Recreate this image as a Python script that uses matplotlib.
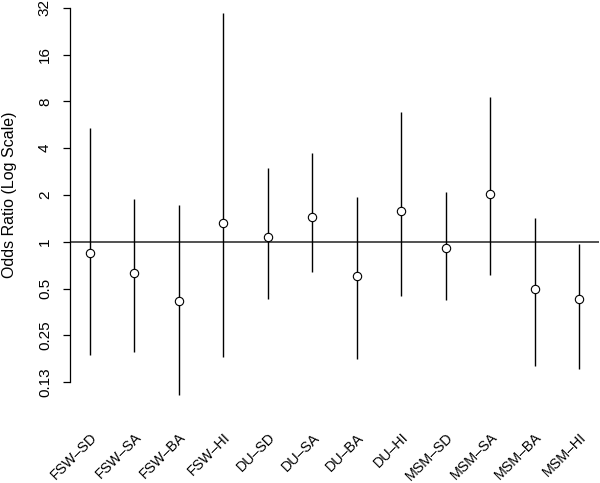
import numpy as np
import matplotlib
matplotlib.use('Agg')
import matplotlib.pyplot as plt

plt.rcParams['font.family'] = ['Liberation Sans', 'DejaVu Sans']

groups = ['FSW–SD', 'FSW–SA', 'FSW–BA', 'FSW–HI', 'DU–SD', 'DU–SA',
          'DU–BA', 'DU–HI', 'MSM–SD', 'MSM–SA', 'MSM–BA', 'MSM–HI']
odds = [0.843, 0.629, 0.417, 1.33, 1.08, 1.45, 0.602, 1.58, 0.916, 2.02, 0.494, 0.428]
lower = [0.188, 0.196, 0.103, 0.182, 0.426, 0.642, 0.175, 0.447, 0.421, 0.611, 0.159, 0.151]
upper = [5.37, 1.88, 1.72, 29.6, 2.97, 3.71, 1.95, 6.81, 2.10, 8.59, 1.42, 0.963]
yticks = [0.125, 0.25, 0.5, 1, 2, 4, 8, 16, 32]
ylabels = ['0.13', '0.25', '0.5', '1', '2', '4', '8', '16', '32']

fig = plt.figure(figsize=(6, 4.83), dpi=100)
ax = fig.add_axes([70/600, 86/483, 529/600, 404/483])

x = np.arange(1, len(groups) + 1)
ax.axhline(1, color='#222222', lw=1.1)
ax.vlines(x, lower, upper, color='black', lw=1.0)
ax.plot(x, odds, 'o', ms=6, mfc='white', mec='black', mew=0.8, ls='none')

ax.set_yscale('log')
ax.set_ylim(2**-3.32, 2**5.32)
ax.set_xlim(0.56, 12.44)
ax.minorticks_off()
ax.set_yticks(yticks)
ax.set_yticklabels(ylabels, rotation=90, va='center', fontsize=11)
ax.tick_params(axis='y', length=5, width=0.9, pad=8)

ax.set_xticks(x)
ax.set_xticklabels(groups, rotation=45, ha='right', va='top',
                   rotation_mode='anchor', fontsize=10.3)
ax.tick_params(axis='x', length=0, pad=24)

for s in ['top', 'right', 'bottom']:
    ax.spines[s].set_visible(False)
ax.spines['left'].set_bounds(0.125, 32)
ax.spines['left'].set_linewidth(0.9)

fig.text(10/600, 1 - 195/483, 'Odds Ratio (Log Scale)', rotation=90,
         ha='center', va='center', fontsize=11.5)

fig.savefig('out.png', dpi=100)
